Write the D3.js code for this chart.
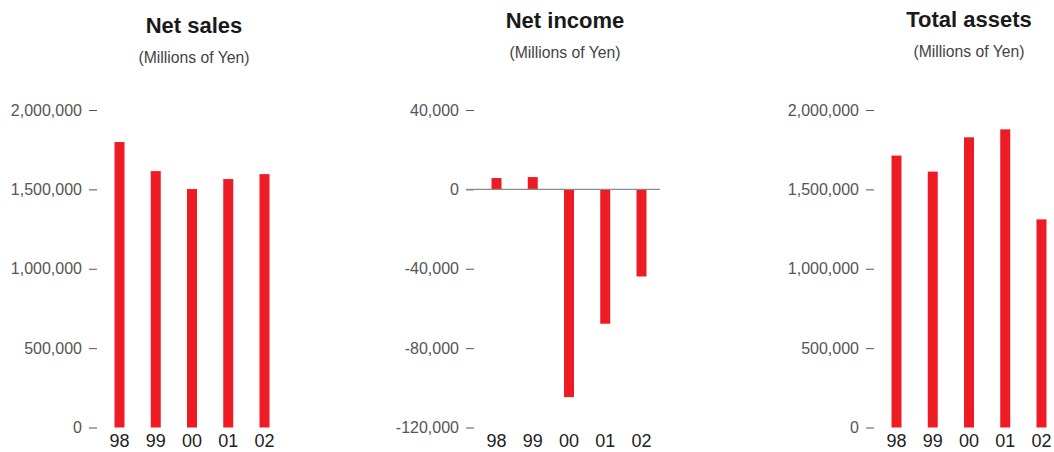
<!DOCTYPE html>
<html>
<head>
<meta charset="utf-8">
<script src="https://cdn.jsdelivr.net/npm/d3@7"></script>
<style>
  body { margin: 0; background: #fff; }
  svg { display: block; }
</style>
</head>
<body>
<script>
// data
var years = ["98", "99", "00", "01", "02"];
var netSales = [1798000, 1615000, 1502000, 1565000, 1596000];
var netIncome = [5700, 6200, -104700, -67700, -43900];
var totalAssets = [1713000, 1612000, 1828000, 1878000, 1311000];

var salesTicks = [0, 500000, 1000000, 1500000, 2000000];
var incomeTicks = [40000, 0, -40000, -80000, -120000];
var assetsTicks = [0, 500000, 1000000, 1500000, 2000000];

var width = 1054, height = 452;
var red = "#ed1c24";

var svg = d3.select("body").append("svg")
    .attr("width", width)
    .attr("height", height);

var fmt = function(d) { return d3.format(",")(d).replace("\u2212", "-"); };

function drawPanel(opt) {
    var g = svg.append("g");
    var axisX = opt.ox + 8;

    var xScale = d3.scalePoint()
        .domain(years)
        .range([opt.ox + 30.5, opt.ox + 30.5 + 4 * 36.25]);

    var yScale = d3.scaleLinear()
        .domain(opt.domain)
        .range([427.5, 110]);

    // titel och undertitel
    g.append("text")
        .attr("x", opt.cx)
        .attr("y", opt.ty)
        .attr("text-anchor", "middle")
        .style("font-family", "'Liberation Sans', Arial, sans-serif")
        .style("font-weight", "bold")
        .style("font-size", "22px")
        .style("fill", "#1a1a1a")
        .text(opt.title);

    // smal undertitel, pressas ihop till ~111px
    g.append("text")
        .attr("x", opt.cx - 55.5)
        .attr("y", opt.ty + 30)
        .attr("textLength", 111)
        .attr("lengthAdjust", "spacingAndGlyphs")
        .style("font-family", "'Liberation Sans', Arial, sans-serif")
        .style("font-size", "17px")
        .style("fill", "#444")
        .text("(Millions of Yen)");

    // y-axeln
    var yAxis = d3.axisLeft(yScale)
        .tickValues(opt.ticks)
        .tickFormat(fmt)
        .tickSizeInner(8)
        .tickSizeOuter(0)
        .tickPadding(7);

    var ax = g.append("g")
        .attr("transform", "translate(" + axisX + ",0)")
        .call(yAxis);
    ax.select(".domain").remove();
    ax.selectAll("line").attr("stroke", "#555").attr("stroke-width", 1);
    ax.selectAll("text")
        .style("font-family", "'Liberation Sans', Arial, sans-serif")
        .style("font-size", "16px")
        .style("fill", "#555");

    // staplar
    g.selectAll("rect.bar")
        .data(opt.values)
        .enter().append("rect")
        .attr("class", "bar")
        .attr("x", function(d, i) { return xScale(years[i]) - 5; })
        .attr("width", 10)
        .attr("y", function(d) { return Math.min(yScale(d), yScale(0)); })
        .attr("height", function(d) { return Math.abs(yScale(d) - yScale(0)); })
        .attr("fill", red);

    if (opt.zeroLine) {
        g.append("line")
            .attr("x1", opt.ox)
            .attr("x2", opt.ox + 194)
            .attr("y1", yScale(0))
            .attr("y2", yScale(0))
            .attr("stroke", "#8a8a8a")
            .attr("stroke-width", 1.3);
    }

    // x-etiketter
    g.selectAll("text.year")
        .data(years)
        .enter().append("text")
        .attr("class", "year")
        .attr("x", function(d) { return xScale(d); })
        .attr("y", 447)
        .attr("text-anchor", "middle")
        .style("font-family", "'Liberation Sans', Arial, sans-serif")
        .style("font-size", "18px")
        .style("fill", "#222")
        .text(function(d) { return d; });
}

drawPanel({ title: "Net sales", cx: 194, ty: 33, ox: 89,
    domain: [0, 2000000], ticks: salesTicks, values: netSales });
drawPanel({ title: "Net income", cx: 565, ty: 28, ox: 466,
    domain: [-120000, 40000], ticks: incomeTicks, values: netIncome, zeroLine: true });
drawPanel({ title: "Total assets", cx: 969, ty: 27, ox: 866,
    domain: [0, 2000000], ticks: assetsTicks, values: totalAssets });
</script>
</body>
</html>
